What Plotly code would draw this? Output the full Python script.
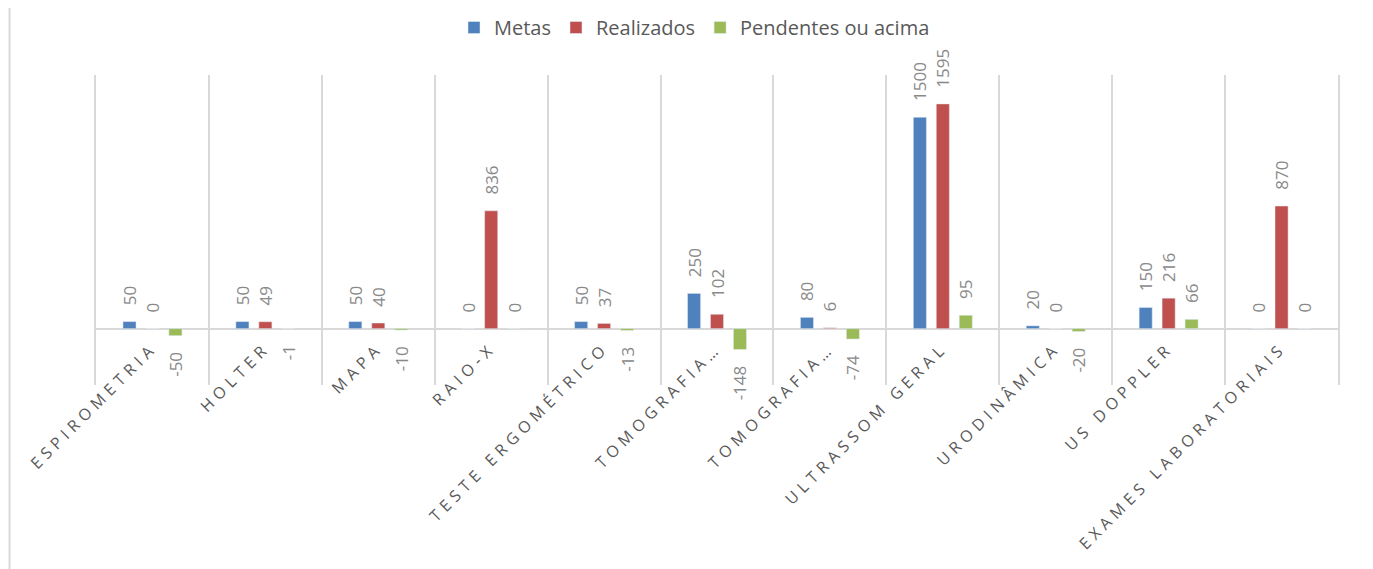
import plotly.graph_objects as go

categories = ['ESPIROMETRIA', 'HOLTER', 'MAPA', 'RAIO-X', 'TESTE ERGOMÉTRICO',
              'TOMOGRAFIA 1', 'TOMOGRAFIA 2', 'ULTRASSOM GERAL', 'URODINÂMICA',
              'US DOPPLER', 'EXAMES LABORATORIAIS']
tick_labels = ['ESPIROMETRIA', 'HOLTER', 'MAPA', 'RAIO-X', 'TESTE ERGOMÉTRICO',
               'TOMOGRAFIA…', 'TOMOGRAFIA…', 'ULTRASSOM GERAL', 'URODINÂMICA',
               'US DOPPLER', 'EXAMES LABORATORIAIS']

metas = [50, 50, 50, 0, 50, 250, 80, 1500, 20, 150, 0]
realizados = [0, 49, 40, 836, 37, 102, 6, 1595, 0, 216, 870]
pendentes = [-50, -1, -10, 0, -13, -148, -74, 95, -20, 66, 0]

series = [
    ('Metas', metas, '#4F81BD'),
    ('Realizados', realizados, '#C0504D'),
    ('Pendentes ou acima', pendentes, '#9BBB59'),
]

PAD = '\u00a0' * 3  # gap between bar end and its label, like Excel


def label(v):
    return f'{PAD}{v}' if v >= 0 else f'{v}{PAD}'


fig = go.Figure()
for name, vals, color in series:
    fig.add_trace(go.Bar(
        x=categories,
        y=vals,
        name=name,
        marker=dict(color=color),
        text=[label(v) for v in vals],
        textposition='outside',
        textangle=-90,
        constraintext='none',
        textfont=dict(family='Open Sans', size=17, color='#898989'),
        cliponaxis=False,
    ))

y_min, y_max = -400, 1800

fig.update_layout(
    width=1373,
    height=569,
    margin=dict(l=88, r=43, t=67, b=192),
    paper_bgcolor='white',
    plot_bgcolor='white',
    barmode='group',
    bargap=0.39,
    bargroupgap=0.43,
    font=dict(family='Open Sans', color='#595959'),
    legend=dict(
        orientation='h',
        xref='container', yref='container',
        x=0.5, xanchor='center',
        y=1.0, yanchor='top',
        font=dict(size=20, color='#595959'),
        itemwidth=30,
    ),
    xaxis=dict(
        type='category',
        tickmode='array',
        tickvals=categories,
        ticktext=[f'<span style="letter-spacing:5px">{t}</span>' for t in tick_labels],
        tickson='boundaries',
        tickangle=-45,
        ticks='',
        ticklabelstandoff=6,
        showgrid=True,
        gridcolor='#D9D9D9',
        gridwidth=2,
        showline=False,
        zeroline=False,
        anchor='free',
        position=(0 - y_min) / (y_max - y_min),
        tickfont=dict(family='Open Sans', size=16, color='#595959'),
    ),
    yaxis=dict(
        range=[y_min, y_max],
        showticklabels=False,
        showgrid=False,
        showline=True,
        mirror=True,
        linecolor='#D9D9D9',
        linewidth=2,
        zeroline=True,
        zerolinecolor='#D9D9D9',
        zerolinewidth=2,
    ),
    shapes=[
        dict(type='line', xref='paper', yref='paper', x0=-0.0696, x1=-0.0696,
             y0=-1, y1=2, line=dict(color='#D9D9D9', width=2)),
        dict(type='line', xref='paper', yref='paper', x0=1.0233, x1=1.0233,
             y0=-1, y1=2, line=dict(color='#D9D9D9', width=2)),
    ],
)

fig.write_html("out.html")
